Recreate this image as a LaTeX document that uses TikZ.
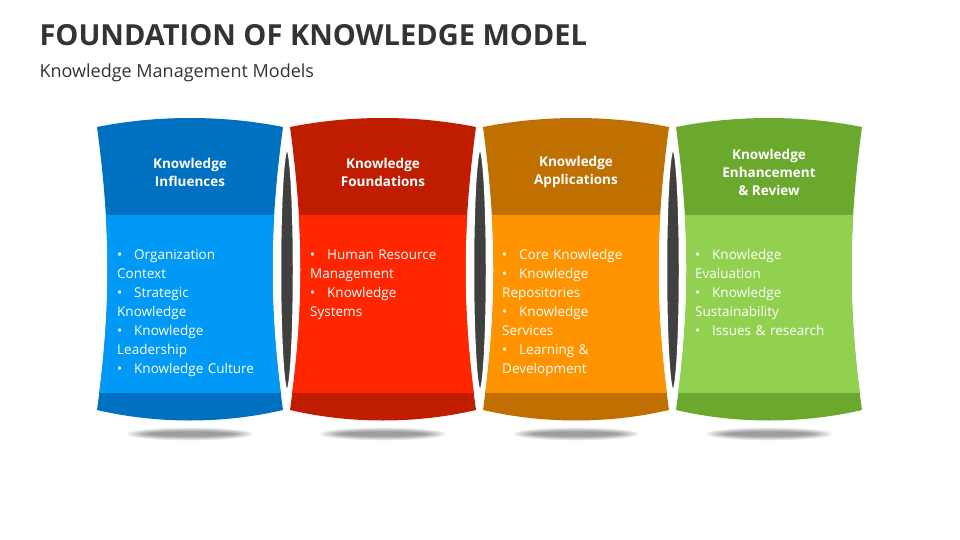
\documentclass[tikz,border=0pt]{standalone}
\usepackage{fontspec}
\setmainfont{Open Sans}
\definecolor{c1d}{HTML}{0070C0}\definecolor{c1l}{HTML}{0099F5}
\definecolor{c2d}{HTML}{C01C00}\definecolor{c2l}{HTML}{FF2600}
\definecolor{c3d}{HTML}{C07000}\definecolor{c3l}{HTML}{FF9400}
\definecolor{c4d}{HTML}{6BA82E}\definecolor{c4l}{HTML}{92D050}
\begin{document}
\begin{tikzpicture}[x=1pt,y=-1pt,
  hdr/.style={text=white,font=\fontsize{13.5}{18}\selectfont\bfseries,align=center},
  body/.style={text=white,font=\fontsize{13.5}{19}\selectfont,align=left,anchor=north west,text width=170pt,inner sep=0pt},
  sep/.style={fill=black!75,draw=white,line width=2.5pt}]
\useasboundingbox (0,0) rectangle (960,540);
\newcommand\bitem[1]{\par\hangindent=17pt\hangafter=1\noindent\makebox[17pt][l]{\textbullet}#1}
\newcommand\card[5]{%
  \begin{scope}
  \clip (#1,127) .. controls (#1+60,115) and (#1+126,115) .. (#1+186,127)
     .. controls (#1+172,230) and (#1+172,310) .. (#1+186,410)
     .. controls (#1+126,424) and (#1+60,424) .. (#1,410)
     .. controls (#1+14,310) and (#1+14,230) .. (#1,127) -- cycle;
  \fill[#2] (#1-5,110) rectangle (#1+191,430);
  \fill[#3] (#1-5,215) rectangle (#1+191,393);
  \end{scope}
  \foreach \k in {1,...,8}{\fill[black,opacity=0.06] (#1+93,434) ellipse ({66-3*\k} and {7-0.6*\k});}
  \node[hdr] (h#5) at (#1+93,172) {#4};}
\card{97}{c1d}{c1l}{Knowledge\\Influences}{1}
\card{290}{c2d}{c2l}{Knowledge\\Foundations}{2}
\card{483}{c3d}{c3l}{Knowledge\\Applications}{3}
\card{676}{c4d}{c4l}{Knowledge\\Enhancement\\\& Review}{4}
\path[sep] (287,270) ellipse (7 and 121);
\path[sep] (480,270) ellipse (7 and 121);
\path[sep] (673,270) ellipse (7 and 121);
\node[body] (b1) at (117,240) {\bitem{Organization\\Context}\bitem{Strategic\\Knowledge}\bitem{Knowledge\\Leadership}\bitem{Knowledge Culture}};
\node[body] (b2) at (310,240) {\bitem{Human Resource\\Management}\bitem{Knowledge\\Systems}};
\node[body] (b3) at (502,240) {\bitem{Core Knowledge}\bitem{Knowledge\\Repositories}\bitem{Knowledge\\Services}\bitem{Learning \&\\Development}};
\node[body] (b4) at (695,240) {\bitem{Knowledge\\Evaluation}\bitem{Knowledge\\Sustainability}\bitem{Issues \& research}};
\node[anchor=west,font=\fontsize{29}{32}\selectfont\bfseries,text=black!80] (t) at (36,35) {FOUNDATION OF KNOWLEDGE MODEL};
\node[anchor=west,font=\fontsize{18}{20}\selectfont,text=black!80] (st) at (36,73) {Knowledge Management Models};
\end{tikzpicture}
\end{document}
